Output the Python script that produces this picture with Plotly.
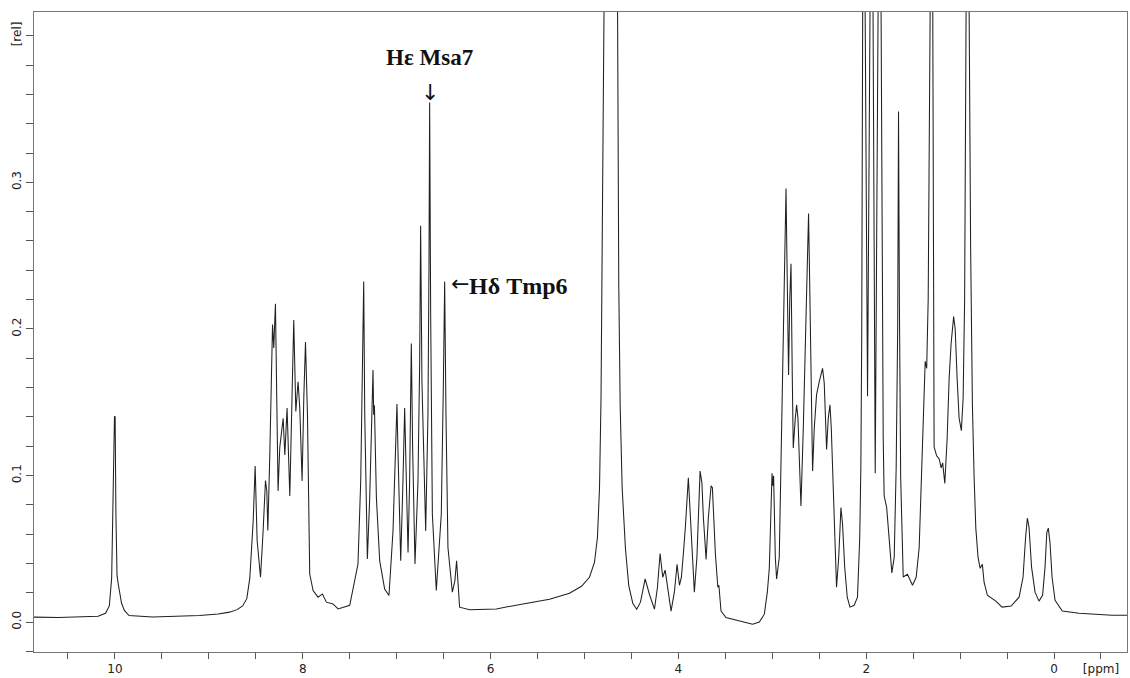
import plotly.graph_objects as go

# 1H NMR spectrum traced as (chemical shift, relative intensity) vertices
ppm = [
    10.862, 10.60, 10.35, 10.18, 10.10, 10.06, 10.035, 10.018, 10.005, 9.998,
    9.990, 9.978, 9.965, 9.950, 9.930, 9.900, 9.850, 9.600, 9.300, 9.100,
    8.900, 8.780, 8.700, 8.640, 8.596, 8.564, 8.528, 8.507, 8.486, 8.450,
    8.422, 8.397, 8.383, 8.372, 8.351, 8.333, 8.322, 8.309, 8.291, 8.277,
    8.263, 8.245, 8.209, 8.191, 8.167, 8.138, 8.117, 8.096, 8.074, 8.050,
    8.032, 8.007, 7.989, 7.971, 7.950, 7.926, 7.890, 7.837, 7.791, 7.748,
    7.678, 7.624, 7.500, 7.412, 7.383, 7.365, 7.351, 7.340, 7.312, 7.287,
    7.263, 7.252, 7.245, 7.237, 7.216, 7.181, 7.128, 7.082, 7.039, 7.014,
    6.997, 6.986, 6.957, 6.933, 6.915, 6.901, 6.879, 6.862, 6.844, 6.830,
    6.805, 6.773, 6.755, 6.745, 6.731, 6.691, 6.667, 6.656, 6.649, 6.638,
    6.620, 6.578, 6.525, 6.503, 6.489, 6.475, 6.454, 6.407, 6.380, 6.362,
    6.344, 6.330, 6.223, 5.939, 5.656, 5.372, 5.160, 5.032, 4.947, 4.894,
    4.862, 4.840, 4.824, 4.809, 4.798, 4.723, 4.650, 4.635, 4.620, 4.599,
    4.564, 4.529, 4.486, 4.444, 4.404, 4.354, 4.309, 4.255, 4.223, 4.195,
    4.167, 4.141, 4.117, 4.078, 4.043, 4.014, 3.989, 3.968, 3.947, 3.926,
    3.894, 3.872, 3.830, 3.803, 3.769, 3.750, 3.734, 3.705, 3.681, 3.652,
    3.638, 3.606, 3.580, 3.569, 3.546, 3.493, 3.422, 3.316, 3.210, 3.138,
    3.085, 3.053, 3.032, 3.016, 3.003, 2.995, 2.986, 2.968, 2.954, 2.926,
    2.904, 2.880, 2.854, 2.844, 2.827, 2.814, 2.801, 2.787, 2.777, 2.755,
    2.741, 2.727, 2.695, 2.670, 2.644, 2.614, 2.601, 2.585, 2.571, 2.553,
    2.529, 2.500, 2.465, 2.447, 2.422, 2.404, 2.386, 2.372, 2.340, 2.316,
    2.293, 2.269, 2.252, 2.229, 2.202, 2.173, 2.128, 2.093, 2.069, 2.057,
    2.048, 2.029, 1.986, 1.941, 1.904, 1.856, 1.819, 1.809, 1.782, 1.755,
    1.727, 1.702, 1.681, 1.665, 1.656, 1.647, 1.633, 1.606, 1.561, 1.507,
    1.468, 1.436, 1.404, 1.372, 1.356, 1.340, 1.300, 1.277, 1.250, 1.223,
    1.202, 1.186, 1.163, 1.138, 1.117, 1.096, 1.069, 1.053, 1.032, 1.011,
    0.987, 0.968, 0.952, 0.922, 0.888, 0.869, 0.851, 0.833, 0.809, 0.787,
    0.763, 0.745, 0.710, 0.620, 0.553, 0.457, 0.372, 0.330, 0.303, 0.284,
    0.266, 0.239, 0.202, 0.160, 0.122, 0.096, 0.077, 0.061, 0.043, 0.021,
    -0.011, -0.088, -0.266, -0.479, -0.617, -0.777,
]

intensity = [
    0.0034, 0.0032, 0.0036, 0.0040, 0.0060, 0.0110, 0.0300, 0.0860, 0.1405, 0.1400,
    0.0750, 0.0320, 0.0260, 0.0200, 0.0130, 0.0080, 0.0045, 0.0035, 0.0040, 0.0045,
    0.0055, 0.0068, 0.0085, 0.0110, 0.0160, 0.0300, 0.0690, 0.1064, 0.0557, 0.0306,
    0.0625, 0.0966, 0.0896, 0.0625, 0.1140, 0.1870, 0.2030, 0.1870, 0.2172, 0.1530,
    0.0894, 0.1190, 0.1390, 0.1140, 0.1460, 0.0860, 0.1530, 0.2060, 0.1437, 0.1640,
    0.1460, 0.0962, 0.1530, 0.1910, 0.1414, 0.0328, 0.0215, 0.0170, 0.0192, 0.0136,
    0.0124, 0.0090, 0.0115, 0.0396, 0.0962, 0.1820, 0.2324, 0.1414, 0.0430, 0.0849,
    0.1414, 0.1720, 0.1414, 0.1480, 0.0849, 0.0419, 0.0226, 0.0181, 0.0622, 0.1166,
    0.1487, 0.1166, 0.0419, 0.0962, 0.1460, 0.1075, 0.0475, 0.0962, 0.1900, 0.1188,
    0.0396, 0.0962, 0.1777, 0.2704, 0.1640, 0.0622, 0.1414, 0.2432, 0.3544, 0.2093,
    0.0735, 0.0215, 0.0735, 0.1618, 0.2324, 0.1414, 0.0509, 0.0204, 0.0283, 0.0419,
    0.0215, 0.0102, 0.0084, 0.0090, 0.0124, 0.0156, 0.0197, 0.0244, 0.0306, 0.0407,
    0.0577, 0.0917, 0.1528, 0.2546, 0.3700, 0.9500, 0.4500, 0.2300, 0.1473, 0.0917,
    0.0502, 0.0251, 0.0129, 0.0088, 0.0136, 0.0295, 0.0190, 0.0088, 0.0238, 0.0468,
    0.0306, 0.0355, 0.0238, 0.0075, 0.0204, 0.0394, 0.0251, 0.0306, 0.0468, 0.0645,
    0.0984, 0.0713, 0.0204, 0.0441, 0.1030, 0.0950, 0.0713, 0.0428, 0.0713, 0.0930,
    0.0917, 0.0464, 0.0238, 0.0251, 0.0075, 0.0031, 0.0018, 0.0003, -0.0014, 0.0000,
    0.0054, 0.0204, 0.0367, 0.0781, 0.1015, 0.0930, 0.0998, 0.0441, 0.0294, 0.0441,
    0.1188, 0.1867, 0.2958, 0.2478, 0.1686, 0.2206, 0.2444, 0.1663, 0.1188, 0.1392,
    0.1482, 0.1392, 0.0792, 0.1324, 0.2071, 0.2788, 0.2274, 0.1392, 0.1030, 0.1324,
    0.1550, 0.1640, 0.1731, 0.1630, 0.1177, 0.1392, 0.1482, 0.1324, 0.0735, 0.0238,
    0.0441, 0.0781, 0.0669, 0.0373, 0.0170, 0.0102, 0.0115, 0.0170, 0.0577, 0.1059,
    0.1942, 0.6000, 0.1540, 0.6000, 0.1015, 0.6000, 0.1256, 0.0862, 0.0781, 0.0530,
    0.0336, 0.0441, 0.1052, 0.2003, 0.3483, 0.2206, 0.0984, 0.0308, 0.0326, 0.0251,
    0.0306, 0.0509, 0.1188, 0.1779, 0.1731, 0.2206, 0.6000, 0.1195, 0.1134, 0.1113,
    0.1052, 0.1086, 0.0946, 0.1256, 0.1663, 0.1901, 0.2084, 0.2003, 0.1663, 0.1392,
    0.1306, 0.1527, 0.2206, 0.6000, 0.2546, 0.1473, 0.0984, 0.0641, 0.0441, 0.0367,
    0.0394, 0.0272, 0.0183, 0.0143, 0.0102, 0.0109, 0.0170, 0.0306, 0.0577, 0.0710,
    0.0645, 0.0373, 0.0204, 0.0143, 0.0183, 0.0373, 0.0611, 0.0641, 0.0543, 0.0306,
    0.0149, 0.0075, 0.0061, 0.0054, 0.0047, 0.0047,
]

# axis ticks: every 0.5 ppm / 0.02 rel, labelled at the usual positions
x_ticks = [10.5 - 0.5 * i for i in range(23)]
x_labels = {10.0: "10", 8.0: "8", 6.0: "6", 4.0: "4", 2.0: "2", 0.0: "0", -0.5: "[ppm]"}
y_ticks = [round(-0.02 + 0.02 * i, 2) for i in range(22)]
y_labels = {0.0: "0.0", 0.1: "0.1", 0.2: "0.2", 0.3: "0.3", 0.4: "[rel]"}

x_range = [10.862, -0.777]
y_range = [-0.0204, 0.4162]

fig = go.Figure()
fig.add_trace(go.Scatter(
    x=ppm, y=intensity, mode="lines",
    line=dict(color="#202020", width=1.05),
    showlegend=False, hoverinfo="skip",
))

axis_font = dict(family="DejaVu Sans", size=12, color="#222222")

fig.update_xaxes(
    range=x_range,
    tickmode="array",
    tickvals=x_ticks,
    ticktext=[x_labels.get(round(v, 2), "") for v in x_ticks],
    ticks="outside", ticklen=6, tickwidth=1, tickcolor="#555555",
    showline=True, linecolor="#777777", linewidth=1, mirror=True,
    showgrid=False, zeroline=False, tickfont=axis_font,
)
fig.update_yaxes(
    range=y_range,
    tickmode="array",
    tickvals=y_ticks,
    ticktext=[y_labels.get(round(v, 2), "") for v in y_ticks],
    tickangle=-90,
    ticks="outside", ticklen=7, tickwidth=1, tickcolor="#555555",
    showline=True, linecolor="#777777", linewidth=1, mirror=True,
    showgrid=False, zeroline=False, tickfont=axis_font,
)

arrow_font = dict(family="DejaVu Sans", size=22, color="#111111")

fig.add_annotation(x=6.649, y=0.385, text="<b>Hε Msa7</b>", showarrow=False,
                   xanchor="center", yanchor="middle",
                   font=dict(family="Liberation Serif", size=23, color="#111111"))
fig.add_annotation(x=6.649, y=0.361, text="↓", showarrow=False,
                   xanchor="center", yanchor="middle", font=arrow_font)
fig.add_annotation(x=6.445, y=0.2310, text="←", showarrow=False,
                   xanchor="left", yanchor="middle", font=arrow_font)
fig.add_annotation(x=6.255, y=0.2295, text="<b>Hδ Tmp6</b>", showarrow=False,
                   xanchor="left", yanchor="middle",
                   font=dict(family="Liberation Serif", size=24, color="#111111"))

fig.update_layout(
    width=1130, height=678,
    margin=dict(l=34, r=2, t=12, b=23),
    paper_bgcolor="white", plot_bgcolor="white",
)

fig.write_html("out.html")
